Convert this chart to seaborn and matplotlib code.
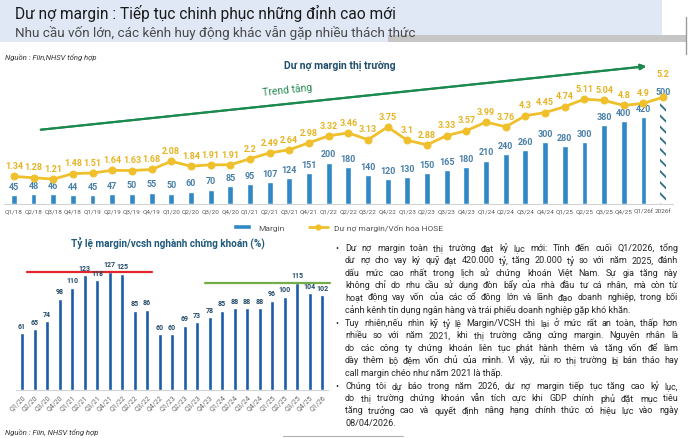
import numpy as np
import pandas as pd
import seaborn as sns
import matplotlib.pyplot as plt
from matplotlib.patches import Rectangle
from matplotlib.lines import Line2D

# ---- data: market margin debt (thousand bn VND) and margin / HOSE cap (%)
quarters = ['Q1/18', 'Q2/18', 'Q3/18', 'Q4/18', 'Q1/19', 'Q2/19', 'Q3/19', 'Q4/19',
            'Q1/20', 'Q2/20', 'Q3/20', 'Q4/20', 'Q1/21', 'Q2/21', 'Q3/21', 'Q4/21',
            'Q1/22', 'Q2/22', 'Q3/22', 'Q4/22', 'Q1/23', 'Q2/23', 'Q3/23', 'Q4/23',
            'Q1/24', 'Q2/24', 'Q3/24', 'Q4/24', 'Q1/25', 'Q2/25', 'Q3/25', 'Q4/25',
            'Q1/26f', '2026f']
margin = [45, 48, 46, 44, 45, 47, 50, 55, 50, 60, 70, 85, 95, 107, 124, 151,
          200, 180, 140, 120, 130, 150, 165, 180, 210, 240, 260, 300, 280, 300,
          380, 400, 420, 500]
margin_cap = [1.34, 1.28, 1.21, 1.48, 1.51, 1.64, 1.63, 1.68, 2.08, 1.84, 1.91, 1.91,
              2.2, 2.49, 2.64, 2.98, 3.32, 3.46, 3.13, 3.75, 3.1, 2.88, 3.33, 3.57,
              3.99, 3.76, 4.3, 4.45, 4.74, 5.11, 5.04, 4.8, 4.9, 5.2]

# ---- data: margin / equity of securities firms (%)
quarters2 = ['Q1/20', 'Q2/20', 'Q3/20', 'Q4/20', 'Q1/21', 'Q2/21', 'Q3/21', 'Q4/21',
             'Q1/22', 'Q2/22', 'Q3/22', 'Q4/22', 'Q1/23', 'Q2/23', 'Q3/23', 'Q4/23',
             'Q1/24', 'Q2/24', 'Q3/24', 'Q4/24', 'Q1/25', 'Q2/25', 'Q3/25', 'Q4/25',
             'Q1/26']
margin_equity = [61, 65, 74, 98, 110, 123, 118, 127, 125, 85, 86, 60, 60, 69, 73,
                 78, 85, 88, 88, 88, 96, 100, 115, 104, 102]
peak_2021 = 127
peak_2025 = 115

title = 'Dư nợ margin : Tiếp tục chinh phục những đỉnh cao mới'
subtitle = 'Nhu cầu vốn lớn, các kênh huy động khác vẫn gặp nhiều thách thức'
source_top = 'Nguồn : Fiin,NHSV tổng hợp'
source_bottom = 'Nguồn : Fiin, NHSV tổng hợp'

para1 = ['Dư nợ margin toàn thị trường đạt kỷ lục mới: Tính đến cuối Q1/2026, tổng',
         'dư nợ cho vay ký quỹ đạt 420.000 tỷ, tăng 20.000 tỷ so với năm 2025, đánh',
         'dấu mức cao nhất trong lịch sử chứng khoán Việt Nam. Sự gia tăng này',
         'không chỉ do nhu cầu sử dụng đòn bẩy của nhà đầu tư cá nhân, mà còn từ',
         'hoạt động vay vốn của các cổ đông lớn và lãnh đạo doanh nghiệp, trong bối',
         'cảnh kênh tín dụng ngân hàng và trái phiếu doanh nghiệp gặp khó khăn.']
para2 = ['Tuy nhiên,nếu nhìn kỹ tỷ lệ Margin/VCSH thì lại ở mức rất an toàn, thấp hơn',
         'nhiều so với năm 2021, khi thị trường căng cứng margin. Nguyên nhân là',
         'do các công ty chứng khoán liên tục phát hành thêm và tăng vốn để làm',
         'dày thêm bộ đệm vốn chủ của mình. Vì vậy, rủi ro thị trường bị bán tháo hay',
         'call margin chéo như năm 2021 là thấp.']
para3 = ['Chúng tôi dự báo trong năm 2026, dư nợ margin tiếp tục tăng cao kỷ lục,',
         'do thị trường chứng khoán vẫn tích cực khi GDP chính phủ đặt mục tiêu',
         'tăng trưởng cao và quyết định nâng hạng chính thức có hiệu lực vào ngày',
         '08/04/2026.']

W, H = 690, 439
BAR_BLUE = '#3088c6'
GOLD = '#f0c02c'
DARK_BAR = '#1a5ca6'

sns.set_style('white')
plt.rcParams['font.family'] = ['Roboto', 'DejaVu Sans']
plt.rcParams['hatch.linewidth'] = 1.3

fig = plt.figure(figsize=(W / 100, H / 100), dpi=100)


def fx(px):
    return px / W


def fy(py):
    return 1 - py / H


# header band
fig.patches.append(Rectangle((0, fy(43)), fx(662), 43 / H, transform=fig.transFigure,
                             facecolor='#dfe8f4', edgecolor='none', zorder=0))
fig.patches.append(Rectangle((fx(388), fy(43)), fx(298), 7 / H, transform=fig.transFigure,
                             facecolor='#c6c6c6', edgecolor='none', zorder=0))
fig.add_artist(Line2D([fx(686), fx(686)], [fy(55), fy(18)], transform=fig.transFigure,
                      color='#9a9a9a', lw=1))
fig.text(fx(15), fy(13), title, fontsize=11.2, color='#1b1b1b', va='center')
fig.text(fx(15), fy(33), subtitle, fontsize=9.7, color='#4a4a4a', va='center')
fig.text(fx(5), fy(57), source_top, fontsize=5.5, style='italic', color='#333333', va='center')

# ---- top chart
ax = fig.add_axes([fx(4), fy(205), fx(669), 145 / H])
sns.barplot(x=quarters, y=margin, color=BAR_BLUE, width=0.3, saturation=1, ax=ax)
last = ax.patches[len(margin) - 1]
last.set_facecolor('white')
last.set_edgecolor('#2b6f86')
last.set_hatch('\\' * 3)
last.set_linewidth(0)
ax.bar_label(ax.containers[0], padding=3, fontsize=6.5, color='#4a80a8', fontweight='bold')
ax.set_ylim(0, 700)
ax.set_xlim(-0.5, len(quarters) - 0.5)
ax.set_yticks([])
ax.set_ylabel('')
ax.tick_params(axis='x', length=0, pad=3, labelsize=4.6, labelcolor='#5a5a5a')
for s in ['top', 'left', 'right']:
    ax.spines[s].set_visible(False)
ax.spines['bottom'].set_color('#d3d3d3')
ax.patch.set_alpha(0)

ax2 = ax.twinx()
xs = np.arange(len(quarters))
sns.lineplot(x=xs, y=margin_cap, ax=ax2, color=GOLD, lw=2, marker='o', markersize=5,
             markeredgecolor=GOLD)
ax2.set_ylim(0, 7.06)
ax2.set_yticks([])
ax2.set_ylabel('')
for s in ax2.spines.values():
    s.set_visible(False)
for i, v in enumerate(margin_cap):
    off = 14 if i == len(margin_cap) - 1 else 4.5
    ax2.annotate(f'{v:g}', (i, v), xytext=(0, off), textcoords='offset points',
                 ha='center', va='bottom', fontsize=6.5, color='#e6b422', fontweight='bold')

fig.text(fx(340), fy(66), 'Dư nợ margin thị trường', fontsize=7.5, fontweight='bold',
         color='#1f4e6b', ha='center', va='center')
fig.add_artist(plt.annotate('', xy=(fx(649), fy(67)), xytext=(fx(38), fy(131)),
                            xycoords='figure fraction', textcoords='figure fraction',
                            arrowprops=dict(arrowstyle='-|>', color='#1a8a4e', lw=1.5,
                                            mutation_scale=8)))
fig.text(fx(262), fy(93), 'Trend tăng', fontsize=7.5, color='#2a8c55', rotation=6,
         va='center', ha='left', rotation_mode='anchor')

handles = [Rectangle((0, 0), 1, 1, facecolor=BAR_BLUE),
           Line2D([], [], color=GOLD, lw=2, marker='o', markersize=3.5)]
fig.legend(handles, ['Margin', 'Dư nợ margin/Vốn hóa HOSE'], loc='center',
           bbox_to_anchor=(fx(338), fy(228)), ncol=2, frameon=False, fontsize=6,
           handlelength=2.2, handleheight=0.5, columnspacing=3, labelcolor='#555555')

# ---- bottom chart
bx = fig.add_axes([fx(15.75), fy(391), fx(312.5), 136 / H])
sns.barplot(x=quarters2, y=margin_equity, color=DARK_BAR, width=0.32, saturation=1, ax=bx)
bx.bar_label(bx.containers[0], padding=2.5, fontsize=5, color='#244a66', fontweight='bold')
bx.set_ylim(0, 146)
bx.set_xlim(-0.5, len(quarters2) - 0.5)
bx.set_yticks([])
bx.set_ylabel('')
bx.tick_params(axis='x', length=0, pad=2, labelsize=5, labelcolor='#6a6a6a')
plt.setp(bx.get_xticklabels(), rotation=45, ha='right', rotation_mode='anchor')
for s in ['top', 'left', 'right']:
    bx.spines[s].set_visible(False)
bx.spines['bottom'].set_color('#d3d3d3')
bx.plot([0.4, 10.4], [peak_2021, peak_2021], color='#e0252b', lw=1.6, clip_on=False)
bx.plot([14.6, 24.6], [peak_2025, peak_2025], color='#72ad47', lw=1.6, clip_on=False)

fig.text(fx(168), fy(243), 'Tỷ lệ margin/vcsh nghành chứng khoán (%)', fontsize=7.2,
         fontweight='bold', color='#1f5a7a', ha='center', va='center')
fig.text(fx(5), fy(432), source_bottom, fontsize=5.5, style='italic', color='#333333',
         va='center')
fig.add_artist(Line2D([fx(283), fx(403)], [fy(437), fy(437)], transform=fig.transFigure,
                      color='#b0b0b0', lw=0.8))

# ---- commentary, justified lines
renderer = fig.canvas.get_renderer()
x0, x1 = 345, 678
kw = dict(fontsize=6.5, color='#262626', va='center')
row = 0
for p, para in enumerate([para1, para2, para3]):
    for j, line in enumerate(para):
        y = 248.5 + row * 12.3 + p * 1.3
        if j == 0:
            fig.text(fx(335), fy(y), '•', **kw)
        words = line.split(' ')
        if j == len(para) - 1:
            fig.text(fx(x0), fy(y), line, **kw)
        else:
            objs = [fig.text(0, fy(y), w, **kw) for w in words]
            widths = [o.get_window_extent(renderer).width for o in objs]
            gap = max((x1 - x0 - sum(widths)) / (len(words) - 1), 2.0)
            x = x0
            for o, wdt in zip(objs, widths):
                o.set_x(fx(x))
                x += wdt + gap
        row += 1

fig.savefig('out.png', dpi=100)
